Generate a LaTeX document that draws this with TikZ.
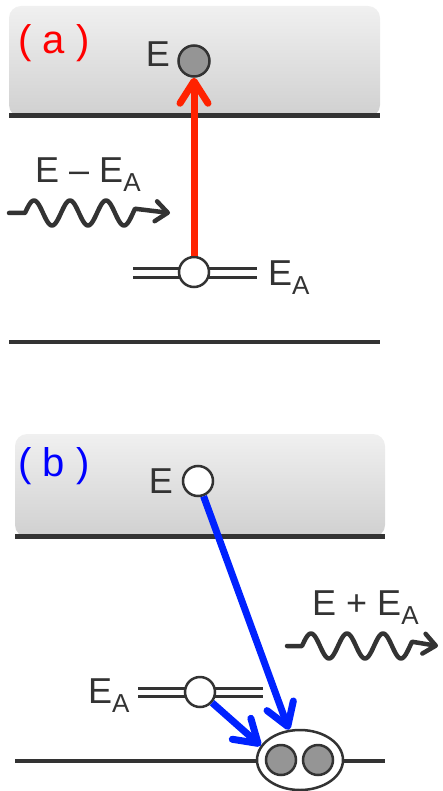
\documentclass[tikz,border=0pt]{standalone}
\usepackage{fontspec}
\setmainfont{Liberation Sans}
\usetikzlibrary{arrows.meta,shapes.geometric}
\definecolor{dk}{HTML}{333333}
\definecolor{bandtop}{HTML}{F0F0F0}
\definecolor{bandbot}{HTML}{D0D0D0}
\definecolor{redarr}{HTML}{FF2200}
\definecolor{bluearr}{HTML}{0022FF}
\definecolor{dotgray}{HTML}{959595}
\newcommand{\lowA}{\raisebox{-9pt}{\fontsize{26}{26}\selectfont A}}
\tikzset{
  lbl/.style={text=dk, font=\fontsize{36}{36}\selectfont, inner sep=0pt},
  tag/.style={font=\fontsize{40}{40}\selectfont, inner sep=0pt},
  edge/.style={draw=dk, line width=5pt},
  floor/.style={draw=dk, line width=3.5pt},
  dblline/.style={draw=dk, line width=3pt},
  filled/.style={circle, draw=dk, line width=2.5pt, fill=dotgray, minimum size=31pt, inner sep=0pt},
  hole/.style={circle, draw=dk, line width=2.5pt, fill=white, minimum size=30pt, inner sep=0pt},
  pair/.style={ellipse, draw=dk, line width=2.5pt, fill=white, minimum width=86pt, minimum height=60pt, inner sep=0pt},
  band/.style={top color=bandtop, bottom color=bandbot, draw=none},
  wave/.style={draw=dk, line width=4.5pt, line cap=round, line join=round, -{Straight Barb[round,length=12pt,width=20pt]}},
  redarrow/.style={draw=redarr, line width=7pt, -{Straight Barb[round,length=22pt,width=28pt]}},
  bluearrow/.style={draw=bluearr, line width=7pt, -{Straight Barb[round,length=22pt,width=28pt]}},
}
\begin{document}
\begin{tikzpicture}[x=1pt,y=-1pt]
\useasboundingbox (0,0) rectangle (442,791);
% ---------------- panel (a)
\path[band, rounded corners=12pt] (9,117) -- (9,6) -- (380,6) -- (380,117) -- cycle;
\coordinate (aL1) at (9,116); \coordinate (aR1) at (380,116);
\draw[edge] (aL1) -- (aR1);
\coordinate (aL2) at (9,342); \coordinate (aR2) at (380,342);
\draw[floor] (aL2) -- (aR2);
\node[tag, text=red] (taga) at (54,43) {( a )};
\node[filled] (ea) at (194,61) {};
\node[lbl, anchor=east] (ela) at (170,54) {E};
% acceptor level
\coordinate (a1) at (133,268); \coordinate (a2) at (257,268);
\coordinate (a3) at (133,277); \coordinate (a4) at (257,277);
\draw[dblline] (a1) -- (a2);
\draw[dblline] (a3) -- (a4);
\node[hole] (ca) at (194,272) {};
\node[lbl, anchor=base west] (eaa) at (268,285) {E\lowA};
\draw[redarrow] (ca.north) -- (ea.south);
% incoming photon
\node[lbl, anchor=base west] (phin) at (35,183) {E – E\lowA};
\coordinate (wa0) at (9,213); \coordinate (wa1) at (25,213); \coordinate (wa2) at (170,213);
\draw[wave] (wa0) -- (wa1) -- plot[domain=0:110, samples=90] ({25+\x}, {213-12.5*sin(\x*10)}) -- (wa2);
% ---------------- panel (b)
\path[band, rounded corners=12pt] (15,537) -- (15,434) -- (385,434) -- (385,537) -- cycle;
\coordinate (bL1) at (15,536); \coordinate (bR1) at (385,536);
\draw[edge] (bL1) -- (bR1);
\coordinate (bL2) at (15,761); \coordinate (bR2) at (385,761);
\draw[floor] (bL2) -- (bR2);
\node[tag, text=blue] (tagb) at (54,466) {( b )};
\node[hole] (eb) at (198,481) {};
\node[lbl, anchor=east] (elb) at (173,481) {E};
% exciton / pair
\node[pair] (ell) at (300,760) {};
\node[filled, minimum size=30pt] (p1) at (281,760) {};
\node[filled, minimum size=30pt] (p2) at (318,760) {};
% acceptor level
\coordinate (b1) at (138,688); \coordinate (b2) at (263,688);
\coordinate (b3) at (138,696); \coordinate (b4) at (263,696);
\draw[dblline] (b1) -- (b2);
\draw[dblline] (b3) -- (b4);
\node[hole] (cb) at (200,692) {};
\node[lbl, anchor=base west] (eab) at (88,703) {E\lowA};
\draw[bluearrow] (eb) -- (ell);
\draw[bluearrow] (cb) -- (ell.160);
% outgoing photon
\node[lbl, anchor=base west] (phout) at (312,615) {E + E\lowA};
\coordinate (wb0) at (287,646); \coordinate (wb1) at (302,646); \coordinate (wb2) at (438,646);
\draw[wave] (wb0) -- (wb1) -- plot[domain=0:110, samples=90] ({302+\x}, {646-12.5*sin(\x*10)}) -- (wb2);
\end{tikzpicture}
\end{document}
